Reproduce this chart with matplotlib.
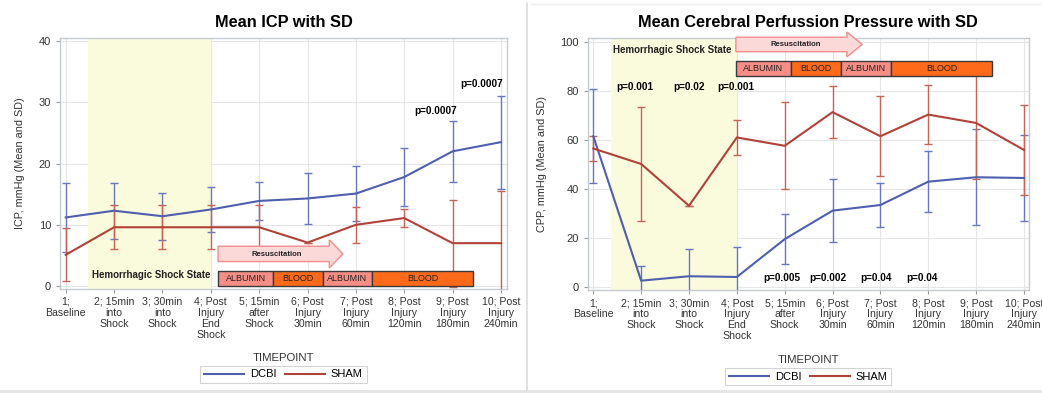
import matplotlib
matplotlib.use("Agg")
import matplotlib.pyplot as plt
from matplotlib.patches import FancyArrow, Rectangle
from matplotlib.lines import Line2D
import numpy as np

plt.rcParams['font.family'] = ['Liberation Sans', 'DejaVu Sans']

# ---------------- data ----------------
timepoints = [1, 2, 3, 4, 5, 6, 7, 8, 9, 10]
tick_labels = ["1;\nBaseline", "2; 15min\ninto\nShock", "3; 30min\ninto\nShock",
               "4; Post\nInjury\nEnd\nShock", "5; 15min\nafter\nShock",
               "6; Post\nInjury\n30min", "7; Post\nInjury\n60min",
               "8; Post\nInjury\n120min", "9; Post\nInjury\n180min",
               "10; Post\nInjury\n240min"]

icp_dcbi_mean = [11.2, 12.3, 11.4, 12.5, 13.9, 14.3, 15.1, 17.8, 22.0, 23.5]
icp_dcbi_sd = [5.6, 4.6, 3.8, 3.7, 3.1, 4.1, 4.5, 4.7, 5.0, 7.6]
icp_sham_mean = [5.1, 9.6, 9.6, 9.6, 9.6, 7.1, 10.0, 11.1, 7.0, 7.0]
icp_sham_sd = [4.3, 3.6, 3.6, 3.6, 3.6, 0.0, 2.9, 1.5, 7.1, 8.6]

cpp_dcbi_mean = [61.5, 2.7, 4.5, 4.2, 19.6, 31.2, 33.5, 43.0, 44.8, 44.5]
cpp_dcbi_sd = [19.2, 6.0, 11.1, 12.4, 10.1, 12.8, 8.9, 12.5, 19.5, 17.5]
cpp_sham_mean = [56.5, 50.2, 33.2, 61.0, 57.6, 71.3, 61.5, 70.3, 66.9, 55.9]
cpp_sham_sd = [5.0, 23.3, 0.0, 7.2, 17.7, 10.5, 16.2, 12.0, 22.7, 18.5]

icp_pvalues = [(8.65, 28.6, "p=0.0007"), (9.6, 33.0, "p=0.0007")]
cpp_pvalues = [(1.87, 81.5, "p=0.001"), (3.0, 81.5, "p=0.02"), (3.98, 81.5, "p=0.001"),
               (4.94, 3.9, "p=0.005"), (5.9, 3.9, "p=0.002"), (6.9, 3.9, "p=0.04"),
               (7.87, 3.9, "p=0.04")]

phase_labels = ["ALBUMIN", "BLOOD", "ALBUMIN", "BLOOD"]
icp_phase_edges = [4.15, 5.29, 6.32, 7.33, 9.42]
cpp_phase_edges = [3.98, 5.13, 6.17, 7.22, 9.33]

# ---------------- style ----------------
BLUE = "#4f5fae"
BLUE_EB = "#6878c0"
RED = "#b0423a"
RED_EB = "#c5655a"
SHADE = "#fafadc"
GRID = "#e6e6e6"
FRAME = "#c5cad3"
ALB = "#f78e86"
BLOOD = "#ff6a1a"

fig = plt.figure(figsize=(10.42, 3.93), dpi=100)

def px_ax(x0, x1, ytop, ybot):
    W, H = 1042.0, 393.0
    return [x0 / W, 1 - ybot / H, (x1 - x0) / W, (ybot - ytop) / H]

ax1 = fig.add_axes(px_ax(60, 507, 38, 288.5))
ax2 = fig.add_axes(px_ax(587.7, 1029, 37.7, 290))


def style_axes(ax, xlim, ylim, yticks, ylabel, title, ylab_x):
    ax.set_xlim(*xlim)
    ax.set_ylim(*ylim)
    ax.set_xticks(timepoints)
    ax.set_xticklabels(tick_labels, fontsize=7.6, color="#333333", linespacing=1.12)
    ax.set_yticks(yticks)
    ax.tick_params(axis='y', labelsize=8, colors="#333333", length=3, width=0.8, color="#999999")
    ax.tick_params(axis='x', length=3, width=0.8, color="#999999", pad=3)
    ax.grid(True, color=GRID, lw=0.8, zorder=0)
    ax.set_axisbelow(True)
    for s in ax.spines.values():
        s.set_color(FRAME)
        s.set_linewidth(1.0)
    ax.set_ylabel(ylabel, fontsize=7.8, color="#333333")
    ax.yaxis.set_label_coords(ylab_x, 0.5)
    ax.set_xlabel("TIMEPOINT", fontsize=8.2, color="#333333")
    ax.xaxis.set_label_coords(0.5, -0.258)
    ax.set_title(title, fontsize=11.8, fontweight="bold", pad=8)
    handles = [Line2D([], [], color=BLUE, lw=1.5), Line2D([], [], color=RED, lw=1.5)]
    leg = ax.legend(handles, ["DCBI", "SHAM"], loc="center", bbox_to_anchor=(0.5, -0.343),
                    ncol=2, fontsize=8, frameon=True, fancybox=False, handlelength=3.6,
                    columnspacing=0.8, handletextpad=0.5, borderpad=0.35)
    leg.get_frame().set_edgecolor("#c8c8c8")
    leg.get_frame().set_linewidth(0.8)


def draw_series(ax, mean, sd, color, ecolor):
    ax.errorbar(timepoints, mean, yerr=sd, color=color, ecolor=ecolor, lw=1.5,
                elinewidth=1.0, capsize=3, capthick=1.0, zorder=3)


def draw_phases(ax, edges, y0, y1):
    for i, lab in enumerate(phase_labels):
        fc = ALB if lab == "ALBUMIN" else BLOOD
        r = Rectangle((edges[i], y0), edges[i + 1] - edges[i], y1 - y0, facecolor=fc,
                      edgecolor="#3a3a3a", lw=1.0, zorder=5, clip_on=False)
        ax.add_patch(r)
        ax.text((edges[i] + edges[i + 1]) / 2, (y0 + y1) / 2, lab, ha="center", va="center",
                fontsize=6.5, color="#222222", zorder=6)


def draw_arrow(ax, x0, x1, yc, width, head_w, head_l, ytext):
    a = FancyArrow(x0, yc, x1 - x0, 0, width=width, head_width=head_w, head_length=head_l,
                   length_includes_head=True, facecolor="#fcd9d9", edgecolor="#f08c8c",
                   lw=1.0, zorder=4, clip_on=False)
    ax.add_patch(a)
    ax.text(x0 + (x1 - x0) * 0.47, ytext, "Resuscitation", ha="center", va="center",
            fontsize=5.6, fontweight="bold", color="#222222", zorder=6)


# ---------- left: ICP ----------
style_axes(ax1, (0.882, 10.124), (-0.4, 40.5), [0, 10, 20, 30, 40],
           "ICP, mmHg (Mean and SD)", "Mean ICP with SD", -0.078)
ax1.axvspan(1.46, 4.0, color=SHADE, zorder=1, lw=0)
draw_series(ax1, icp_dcbi_mean, icp_dcbi_sd, BLUE, BLUE_EB)
draw_series(ax1, icp_sham_mean, icp_sham_sd, RED, RED_EB)
for x, y, t in icp_pvalues:
    ax1.text(x, y, t, ha="center", va="center", fontsize=7.2, fontweight="bold", zorder=6)
ax1.text(2.76, 1.8, "Hemorrhagic Shock State", ha="center", va="center", fontsize=7,
         fontweight="bold", color="#222222", zorder=6)
draw_arrow(ax1, 4.15, 6.73, 5.25, 2.5, 4.6, 0.28, 5.1)
draw_phases(ax1, icp_phase_edges, 0.0, 2.5)

# ---------- right: CPP ----------
style_axes(ax2, (0.883, 10.105), (-1.1, 101.6), [0, 20, 40, 60, 80, 100],
           "CPP, mmHg (Mean and SD)", "Mean Cerebral Perfussion Pressure with SD", -0.092)
ax2.axvspan(1.37, 4.0, color=SHADE, zorder=1, lw=0)
draw_series(ax2, cpp_dcbi_mean, cpp_dcbi_sd, BLUE, BLUE_EB)
draw_series(ax2, cpp_sham_mean, cpp_sham_sd, RED, RED_EB)
for x, y, t in cpp_pvalues:
    ax2.text(x, y, t, ha="center", va="center", fontsize=7.2, fontweight="bold", zorder=6)
ax2.text(2.66, 96.6, "Hemorrhagic Shock State", ha="center", va="center", fontsize=7,
         fontweight="bold", color="#222222", zorder=6)
draw_arrow(ax2, 3.98, 6.62, 98.85, 5.9, 10.1, 0.32, 98.9)
draw_phases(ax2, cpp_phase_edges, 86.0, 92.2)

# panel borders
fig.add_artist(Line2D([527 / 1042, 527 / 1042], [2 / 393, 1 - 3 / 393], color="#dddddd", lw=1.2,
                      transform=fig.transFigure))
fig.add_artist(Line2D([530 / 1042, 1.0], [1 - 4 / 393, 1 - 4 / 393], color="#eeeeee", lw=1.0,
                      transform=fig.transFigure))
fig.add_artist(Rectangle((0, 0), 1, 3 / 393, transform=fig.transFigure, facecolor="#e6e6e6",
                         edgecolor="none"))

fig.savefig("out.png", dpi=100)
